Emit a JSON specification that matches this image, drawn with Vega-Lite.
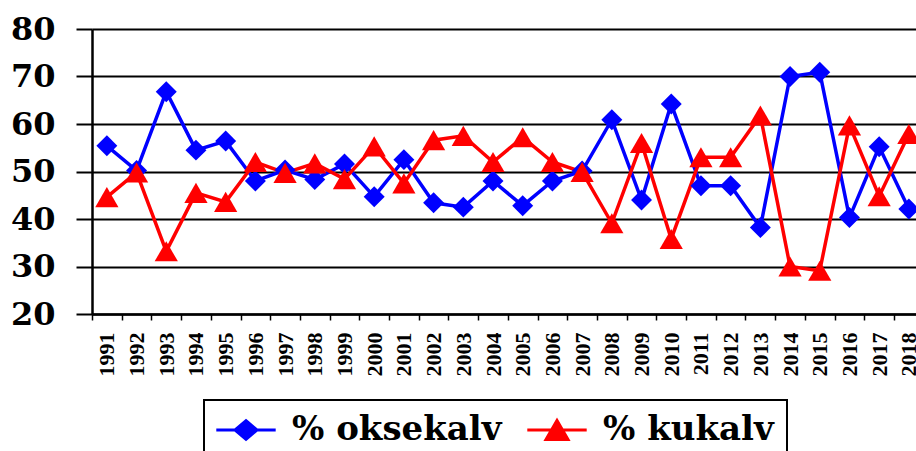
{
  "$schema": "https://vega.github.io/schema/vega-lite/v6.json",
  "width": 824,
  "height": 285,
  "autosize": {"type": "none"},
  "padding": {"left": 92, "top": 29, "right": 0, "bottom": 137},
  "background": "white",
  "config": {"view": {"stroke": null}, "font": "Liberation Serif"},
  "data": {
    "values": [
      {"year": 1991, "series": "% oksekalv", "value": 55.4},
      {"year": 1992, "series": "% oksekalv", "value": 50.2},
      {"year": 1993, "series": "% oksekalv", "value": 66.8},
      {"year": 1994, "series": "% oksekalv", "value": 54.5},
      {"year": 1995, "series": "% oksekalv", "value": 56.4},
      {"year": 1996, "series": "% oksekalv", "value": 48.0},
      {"year": 1997, "series": "% oksekalv", "value": 50.3},
      {"year": 1998, "series": "% oksekalv", "value": 48.3},
      {"year": 1999, "series": "% oksekalv", "value": 51.6},
      {"year": 2000, "series": "% oksekalv", "value": 44.7},
      {"year": 2001, "series": "% oksekalv", "value": 52.5},
      {"year": 2002, "series": "% oksekalv", "value": 43.4},
      {"year": 2003, "series": "% oksekalv", "value": 42.5},
      {"year": 2004, "series": "% oksekalv", "value": 48.0},
      {"year": 2005, "series": "% oksekalv", "value": 42.8},
      {"year": 2006, "series": "% oksekalv", "value": 48.0},
      {"year": 2007, "series": "% oksekalv", "value": 50.1},
      {"year": 2008, "series": "% oksekalv", "value": 60.9},
      {"year": 2009, "series": "% oksekalv", "value": 44.0},
      {"year": 2010, "series": "% oksekalv", "value": 64.2},
      {"year": 2011, "series": "% oksekalv", "value": 47.0},
      {"year": 2012, "series": "% oksekalv", "value": 47.0},
      {"year": 2013, "series": "% oksekalv", "value": 38.2},
      {"year": 2014, "series": "% oksekalv", "value": 70.0},
      {"year": 2015, "series": "% oksekalv", "value": 70.9},
      {"year": 2016, "series": "% oksekalv", "value": 40.3},
      {"year": 2017, "series": "% oksekalv", "value": 55.2},
      {"year": 2018, "series": "% oksekalv", "value": 42.1},
      {"year": 1991, "series": "% kukalv", "value": 44.6},
      {"year": 1992, "series": "% kukalv", "value": 49.8},
      {"year": 1993, "series": "% kukalv", "value": 33.2},
      {"year": 1994, "series": "% kukalv", "value": 45.5},
      {"year": 1995, "series": "% kukalv", "value": 43.6},
      {"year": 1996, "series": "% kukalv", "value": 52.0},
      {"year": 1997, "series": "% kukalv", "value": 49.7},
      {"year": 1998, "series": "% kukalv", "value": 51.7},
      {"year": 1999, "series": "% kukalv", "value": 48.4},
      {"year": 2000, "series": "% kukalv", "value": 55.3},
      {"year": 2001, "series": "% kukalv", "value": 47.5},
      {"year": 2002, "series": "% kukalv", "value": 56.6},
      {"year": 2003, "series": "% kukalv", "value": 57.5},
      {"year": 2004, "series": "% kukalv", "value": 52.0},
      {"year": 2005, "series": "% kukalv", "value": 57.2},
      {"year": 2006, "series": "% kukalv", "value": 52.0},
      {"year": 2007, "series": "% kukalv", "value": 49.9},
      {"year": 2008, "series": "% kukalv", "value": 39.1},
      {"year": 2009, "series": "% kukalv", "value": 56.0},
      {"year": 2010, "series": "% kukalv", "value": 35.8},
      {"year": 2011, "series": "% kukalv", "value": 53.0},
      {"year": 2012, "series": "% kukalv", "value": 53.0},
      {"year": 2013, "series": "% kukalv", "value": 61.8},
      {"year": 2014, "series": "% kukalv", "value": 30.0},
      {"year": 2015, "series": "% kukalv", "value": 29.1},
      {"year": 2016, "series": "% kukalv", "value": 59.7},
      {"year": 2017, "series": "% kukalv", "value": 44.8},
      {"year": 2018, "series": "% kukalv", "value": 57.9}
    ]
  },
  "encoding": {
    "x": {
      "field": "year",
      "type": "quantitative",
      "scale": {"domain": [1990.5, 2018.24], "nice": false, "zero": false},
      "axis": {
        "values": [1991, 1992, 1993, 1994, 1995, 1996, 1997, 1998, 1999, 2000, 2001, 2002, 2003, 2004, 2005, 2006, 2007, 2008, 2009, 2010, 2011, 2012, 2013, 2014, 2015, 2016, 2017, 2018],
        "format": "d",
        "title": null,
        "grid": false,
        "labelAngle": 270,
        "labelFont": "Liberation Serif",
        "labelFontSize": 22,
        "labelFontWeight": "bold",
        "labelColor": "black",
        "labelPadding": 12,
        "labelOverlap": false,
        "labelFlush": false,
        "labelBound": false,
        "tickOffset": -14.85,
        "labelOffset": 14.85,
        "tickSize": 6,
        "tickColor": "black",
        "tickWidth": 1.5,
        "domainColor": "black",
        "domainWidth": 2.5
      }
    },
    "y": {
      "field": "value",
      "type": "quantitative",
      "scale": {"domain": [20, 80], "nice": false, "zero": false},
      "axis": {
        "values": [20, 30, 40, 50, 60, 70, 80],
        "title": null,
        "grid": true,
        "gridColor": "black",
        "gridWidth": 2,
        "gridOpacity": 1,
        "tickSize": 16,
        "tickColor": "black",
        "tickWidth": 2,
        "domainColor": "black",
        "domainWidth": 2.5,
        "labelFont": "DejaVu Serif",
        "labelFontSize": 32,
        "labelFontWeight": "bold",
        "labelColor": "black",
        "labelPadding": 21,
        "labelFlush": false,
        "labelBound": false
      }
    },
    "color": {
      "field": "series",
      "type": "nominal",
      "scale": {"domain": ["% oksekalv", "% kukalv"], "range": ["#0000FF", "#FF0000"]},
      "legend": {
        "title": null,
        "orient": "none",
        "legendX": 112,
        "legendY": 371,
        "direction": "horizontal",
        "labelFont": "DejaVu Serif",
        "labelFontSize": 34,
        "labelFontWeight": "bold",
        "labelColor": "black",
        "labelLimit": 500,
        "labelOffset": 29,
        "symbolOffset": 12,
        "columnPadding": 19,
        "symbolSize": 484,
        "symbolStrokeWidth": 3,
        "symbolType": "M-2.7,0H2.7M0,-0.85L1,0L0,0.85L-1,0Z",
        "padding": 13,
        "strokeColor": "black",
        "fillColor": "white",
        "cornerRadius": 0,
        "encode": {
          "legend": {"update": {"strokeWidth": {"value": 2}}},
          "symbols": {
            "update": {
              "shape": {"signal": "datum.value === '% oksekalv' ? 'M-2.7,0H2.7M0,-0.85L1,0L0,0.85L-1,0Z' : 'M-2.7,0H2.7M0,-0.87L1,0.87L-1,0.87Z'"},
              "fill": {"signal": "datum.value === '% oksekalv' ? '#0000FF' : '#FF0000'"},
              "stroke": {"signal": "datum.value === '% oksekalv' ? '#0000FF' : '#FF0000'"},
              "strokeWidth": {"value": 3},
              "opacity": {"value": 1}
            }
          }
        }
      }
    }
  },
  "layer": [
    {"mark": {"type": "line", "strokeWidth": 3.5, "clip": false}},
    {
      "transform": [{"filter": "datum.series === '% oksekalv'"}],
      "mark": {"type": "point", "shape": "diamond", "size": 440, "filled": true, "opacity": 1, "clip": false}
    },
    {
      "transform": [{"filter": "datum.series === '% kukalv'"}],
      "mark": {"type": "point", "shape": "triangle-up", "size": 540, "filled": true, "opacity": 1, "clip": false}
    }
  ]
}
